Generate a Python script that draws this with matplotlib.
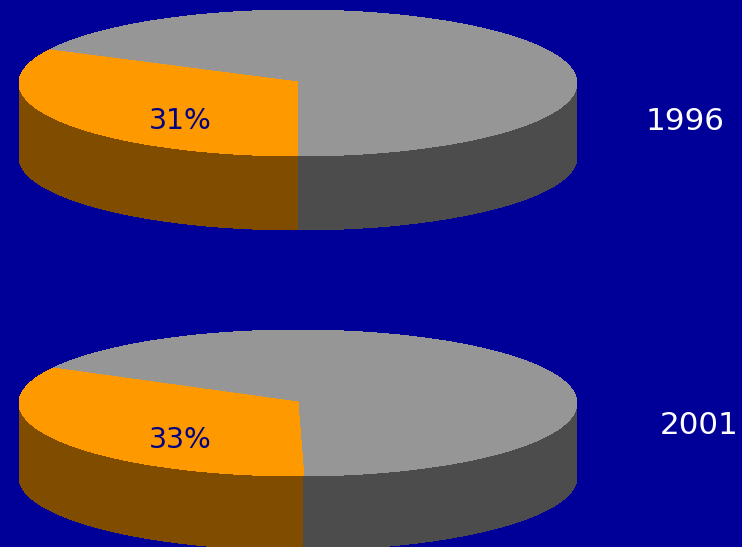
import numpy as np
import matplotlib
matplotlib.use("Agg")
import matplotlib.pyplot as plt

years = ["1996", "2001"]
shares = [31, 33]
start_angles = [270.0, 271.2]
sweeps = [117.0, 119.8]

# pixel layout
cx = 298
centre_y = [83, 403]
rx = 279
ry = 73
depth = 74
year_x = [685, 699]
year_y = [121, 425]
share_y = [121, 440]

bg = "#000099"
orange = "#FF9900"
orange_dark = "#7F4C00"
grey = "#969696"
grey_dark = "#4C4C4C"


def rim(cy, a0, a1, n=300):
    t = np.radians(np.linspace(a0, a1, n))
    return cx + rx * np.cos(t), cy - ry * np.sin(t)


def wall(ax, cy, a0, a1, color):
    # only the front half of the side can be seen
    a0 = max(a0, 180)
    a1 = min(a1, 360)
    if a1 <= a0:
        return
    x, y = rim(cy, a0, a1)
    ax.fill(np.r_[x, x[::-1]], np.r_[y, y[::-1] + depth], color=color, lw=0,
            antialiased=False)


def top(ax, cy, a0, a1, color):
    # the slices meet a pixel above the middle of the rim
    x, y = rim(cy, a0, a1)
    ax.fill(np.r_[cx, x], np.r_[cy - 1, y], color=color, lw=0, antialiased=False)


fig = plt.figure(figsize=(7.42, 5.47), dpi=100, facecolor=bg)
ax = fig.add_axes([0, 0, 1, 1])
ax.set_xlim(0, 742)
ax.set_ylim(547, 0)
ax.axis("off")

for i in range(2):
    cy = centre_y[i]
    end = start_angles[i]
    begin = end - sweeps[i]

    wall(ax, cy, begin, end, orange_dark)
    wall(ax, cy, end, begin + 360, grey_dark)
    top(ax, cy, end, begin + 360, grey)
    top(ax, cy, begin, end, orange)

    ax.text(180, share_y[i], f"{shares[i]}%", color="#000080", fontsize=20.3,
            ha="center", va="center", family="DejaVu Sans")
    ax.text(year_x[i], year_y[i], years[i], color="white", fontsize=22.3,
            ha="center", va="center", family="DejaVu Sans")

fig.savefig("out.png", dpi=100, facecolor=bg)
